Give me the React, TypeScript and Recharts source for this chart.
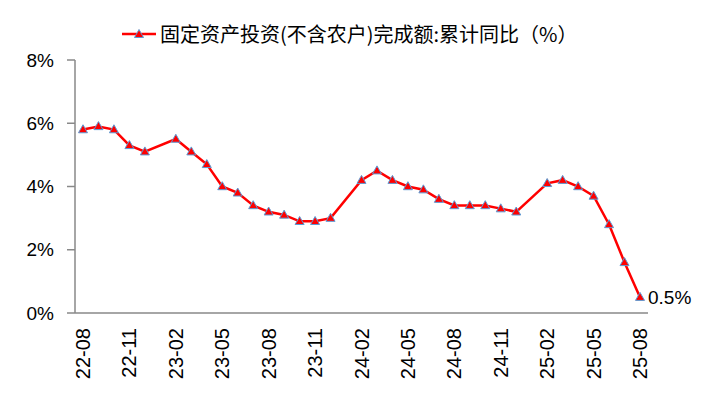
import React from 'react';
import { LineChart, Line, XAxis, YAxis } from 'recharts';

const months: string[] = [
  '22-08', '22-09', '22-10', '22-11', '22-12',
  '23-01', '23-02', '23-03', '23-04', '23-05', '23-06', '23-07', '23-08', '23-09', '23-10', '23-11', '23-12',
  '24-01', '24-02', '24-03', '24-04', '24-05', '24-06', '24-07', '24-08', '24-09', '24-10', '24-11', '24-12',
  '25-01', '25-02', '25-03', '25-04', '25-05', '25-06', '25-07', '25-08',
];

const values: (number | null)[] = [
  5.8, 5.9, 5.8, 5.3, 5.1,
  null, 5.5, 5.1, 4.7, 4.0, 3.8, 3.4, 3.2, 3.1, 2.9, 2.9, 3.0,
  null, 4.2, 4.5, 4.2, 4.0, 3.9, 3.6, 3.4, 3.4, 3.4, 3.3, 3.2,
  null, 4.1, 4.2, 4.0, 3.7, 2.8, 1.6, 0.5,
];

const yTicks: number[] = [0, 2, 4, 6, 8];
const seriesName = '固定资产投资(不含农户)完成额:累计同比（%）';

const data = months.map((m, i) => ({ month: m, value: values[i] }));

const FONT = '"Liberation Sans", Arial, "Noto Sans CJK SC", sans-serif';

const TriangleDot = (props: any) => {
  const { cx, cy, value } = props;
  if (value === null || value === undefined || cx == null || cy == null) return null;
  const w = 4.5;
  const h = 8;
  return (
    <path
      d={`M${cx},${cy - h * 0.6} L${cx + w},${cy + h * 0.4} L${cx - w},${cy + h * 0.4} Z`}
      fill="#ff0000"
      stroke="#5b9bd5"
      strokeWidth={1}
    />
  );
};

const XTick = (props: any) => {
  const { x, y, payload } = props;
  return (
    <text
      x={x}
      y={y}
      transform={`rotate(-90, ${x}, ${y})`}
      textAnchor="end"
      dy="0.35em"
      fontSize={20}
      fontFamily={FONT}
      fill="#000"
    >
      {payload.value}
    </text>
  );
};

const LastLabel = (props: any) => {
  const { x, y, index, value } = props;
  if (index !== values.length - 1) return null;
  return (
    <text x={x + 8} y={y} dy="0.35em" fontSize={19} fontFamily={FONT} fill="#000">
      {`${value}%`}
    </text>
  );
};

export default function App() {
  return (
    <div style={{ position: 'absolute', left: 0, top: 0, width: 701, height: 401, background: '#fff' }}>
      <div
        style={{
          position: 'absolute',
          left: 122,
          top: 21,
          display: 'flex',
          alignItems: 'center',
          fontFamily: '"Noto Sans CJK SC", sans-serif',
          fontSize: 20,
          color: '#000',
          whiteSpace: 'nowrap',
          lineHeight: '26px',
        }}
      >
        <svg width={34} height={12} style={{ marginRight: 4 }}>
          <line x1={0} y1={6} x2={34} y2={6} stroke="#ff0000" strokeWidth={2.5} />
          <path d="M17,1.5 L21.5,9.5 L12.5,9.5 Z" fill="#ff0000" stroke="#5b9bd5" strokeWidth={1} />
        </svg>
        <span>{seriesName}</span>
      </div>
      <LineChart
        width={701}
        height={401}
        data={data}
        margin={{ top: 60, right: 53, bottom: 0, left: 0 }}
      >
        <XAxis
          dataKey="month"
          interval={2}
          padding={{ left: 8, right: 8 }}
          tickLine={false}
          tickSize={0}
          tickMargin={15}
          height={88}
          axisLine={{ stroke: '#898989', strokeWidth: 1.5 }}
          tick={<XTick />}
        />
        <YAxis
          domain={[0, 8]}
          ticks={yTicks}
          width={75}
          tickSize={8}
          tickMargin={13}
          tickFormatter={(v: number) => `${v}%`}
          axisLine={{ stroke: '#898989', strokeWidth: 1.5 }}
          tickLine={{ stroke: '#898989', strokeWidth: 1.5 }}
          tick={{ fill: '#000', fontSize: 19, fontFamily: FONT }}
        />
        <Line
          type="linear"
          dataKey="value"
          name={seriesName}
          stroke="#ff0000"
          strokeWidth={2.5}
          connectNulls
          dot={<TriangleDot />}
          activeDot={false}
          label={<LastLabel />}
          isAnimationActive={false}
        />
      </LineChart>
    </div>
  );
}
